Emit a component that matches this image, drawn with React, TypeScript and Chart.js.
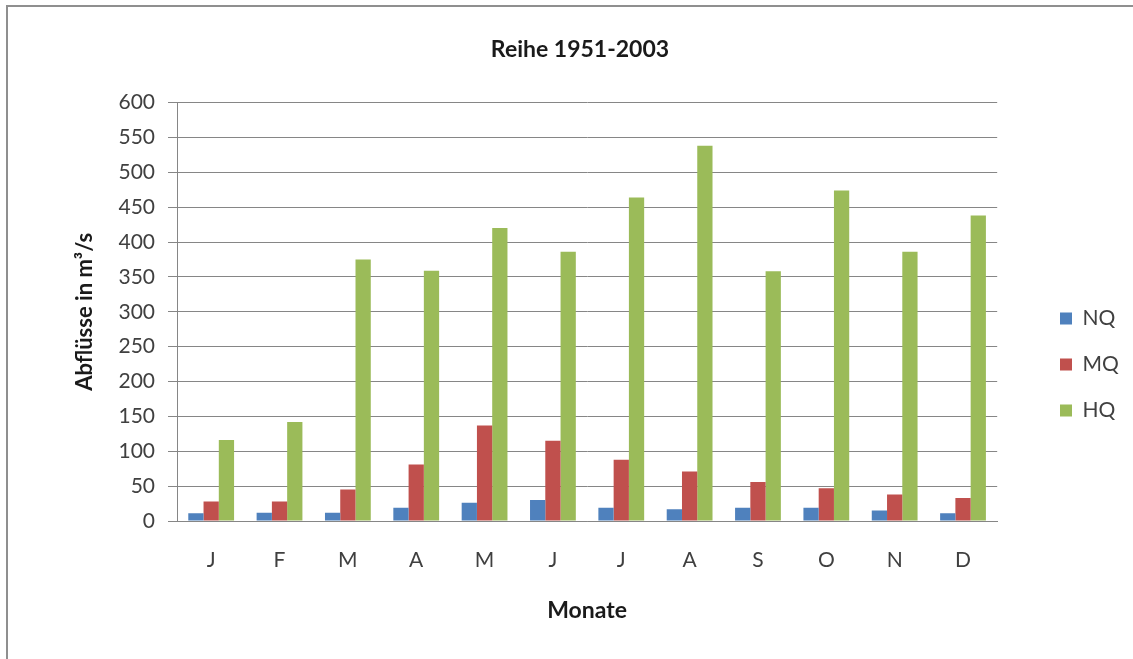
import { useEffect, useRef } from "react";
import { Chart, registerables } from "chart.js";

Chart.register(...registerables);

const months = ["J", "F", "M", "A", "M", "J", "J", "A", "S", "O", "N", "D"];
const nqValues = [11, 12, 12, 19, 26, 30, 19, 17, 19, 19, 15, 11];
const mqValues = [28, 28, 45, 81, 137, 115, 88, 71, 56, 47, 38, 33];
const hqValues = [116, 142, 375, 359, 420, 386, 464, 538, 358, 474, 386, 438];
const seriesLabels = ["NQ", "MQ", "HQ"];
const chartTitle = "Reihe 1951-2003";
const yAxisTitle = "Abflüsse in m³/s";
const xAxisTitle = "Monate";

const FONT = "Lato, 'Open Sans', sans-serif";
const W = 1133;
const H = 659;

const framePlugin = {
  id: "frame",
  beforeDraw(chart: any) {
    const ctx = chart.ctx;
    ctx.save();
    ctx.fillStyle = "#ffffff";
    ctx.fillRect(0, 0, chart.width, chart.height);
    ctx.strokeStyle = "#8f8f8f";
    ctx.lineWidth = 2;
    ctx.strokeRect(7, 6, chart.width + 10, chart.height + 10);
    ctx.restore();
  },
};

const legendShiftPlugin = {
  id: "legendShift",
  afterLayout(chart: any) {
    const lg = chart.legend;
    if (!lg) return;
    const dx = 1060 - 25 - lg.left;
    const dy = 35;
    lg.left += dx;
    lg.right += dx;
    lg.top += dy;
    lg.bottom += dy;
  },
};

export default function App() {
  const ref = useRef<HTMLCanvasElement>(null);

  useEffect(() => {
    if (!ref.current) return;
    const chart = new Chart(ref.current, {
      type: "bar",
      data: {
        labels: months,
        datasets: [
          { label: seriesLabels[0], data: nqValues, backgroundColor: "#4F81BD" },
          { label: seriesLabels[1], data: mqValues, backgroundColor: "#C0504D" },
          { label: seriesLabels[2], data: hqValues, backgroundColor: "#9BBB59" },
        ].map((d) => ({ ...d, categoryPercentage: 0.67, barPercentage: 1.0, borderWidth: 0 })),
      },
      options: {
        responsive: false,
        animation: false,
        layout: { padding: { left: 69, top: 0, right: 42, bottom: 0 } },
        plugins: {
          title: {
            display: true,
            text: chartTitle,
            color: "#1a1a1a",
            font: { family: FONT, size: 23, weight: "bold" },
            padding: { top: 36, bottom: 39 },
          },
          legend: {
            position: "right",
            labels: {
              boxWidth: 12,
              boxHeight: 12,
              padding: 25,
              color: "#404040",
              font: { family: FONT, size: 21 },
            },
          },
          tooltip: { enabled: false },
        },
        scales: {
          x: {
            grid: { display: false, drawTicks: false },
            border: { display: true, color: "#868686" },
            ticks: { padding: 27, color: "#404040", font: { family: FONT, size: 21 } },
            title: {
              display: true,
              text: xAxisTitle,
              color: "#1a1a1a",
              font: { family: FONT, size: 23, weight: "bold" },
              padding: { top: 0, bottom: 35 },
            },
            afterFit: (s: any) => {
              s.height = H - 521;
            },
          },
          y: {
            min: 0,
            max: 600,
            ticks: { stepSize: 50, padding: 13, color: "#404040", font: { family: FONT, size: 21 } },
            grid: { color: "#868686", tickLength: 9 },
            border: { color: "#868686" },
            title: {
              display: true,
              text: yAxisTitle,
              color: "#1a1a1a",
              font: { family: FONT, size: 22, weight: "bold" },
              padding: { top: 3, bottom: 0 },
            },
            afterFit: (s: any) => {
              s.width = 177 - 69;
            },
          },
        },
      },
      plugins: [framePlugin, legendShiftPlugin],
    });
    return () => chart.destroy();
  }, []);

  return (
    <div style={{ position: "absolute", left: 0, top: 0, width: W, height: H }}>
      <canvas ref={ref} width={W} height={H} style={{ display: "block", width: W, height: H }} />
    </div>
  );
}
